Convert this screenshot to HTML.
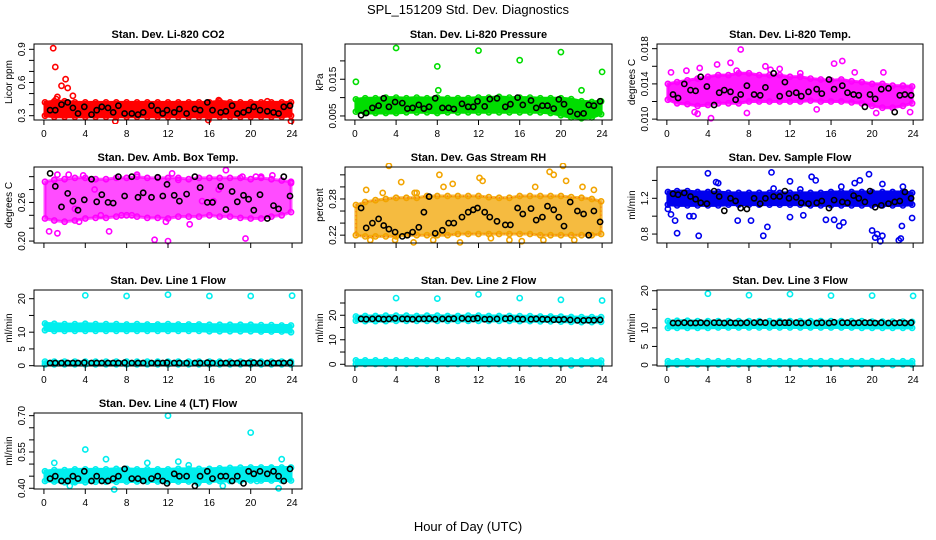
<!DOCTYPE html>
<html><head><meta charset="utf-8">
<style>
html,body{margin:0;padding:0;background:#fff;}
svg{display:block;font-family:"Liberation Sans",Arial,sans-serif;}
</style></head>
<body>
<svg id="chart" width="936" height="540" viewBox="0 0 936 540">
<text x="468" y="14" text-anchor="middle" font-size="13">SPL_151209  Std. Dev. Diagnostics</text>
<text x="468" y="531" text-anchor="middle" font-size="13">Hour of Day (UTC)</text>
</svg>
<script>
// shared hours
const blkH = [0.6,1.1,1.7,2.3,2.8,3.3,3.9,4.6,5.1,5.6,6.2,6.7,7.2,7.8,8.5,9.1,9.6,10.4,11.0,11.5,11.9,12.6,13.1,13.8,14.6,15.1,15.8,16.3,17.1,17.6,18.2,18.7,19.3,19.8,20.3,20.9,21.6,22.2,22.7,23.2,23.8];
const bandH = [0.1,1,2,3,4,5,6,7,8,9,10,11,12,13,14,15,16,17,18,19,20,21,22,23,23.9];
const xTicks = [0,4,8,12,16,20,24];

// CO2
const co2Blk = [.35,.35,.40,.42,.37,.32,.38,.31,.35,.38,.37,.33,.39,.32,.32,.31,.33,.39,.35,.32,.35,.33,.36,.32,.36,.35,.42,.35,.33,.34,.39,.32,.33,.35,.38,.35,.34,.33,.32,.38,.39];
const co2Lo = [.30,.29,.29,.29,.29,.29,.29,.29,.29,.29,.29,.29,.29,.29,.29,.29,.29,.29,.29,.29,.29,.29,.29,.29,.30];
const co2Hi = [.42,.43,.43,.42,.42,.42,.42,.42,.42,.42,.42,.42,.42,.42,.42,.42,.42,.43,.42,.42,.42,.42,.42,.42,.42];
const co2Pts = [[0.9,.91],[1.1,.74],[1.3,.47],[1.2,.45],[2.1,.63],[2.3,.55],[1.7,.57],[2.8,.48],[6.9,.25],[15.9,.26],[23.9,.25],[21.6,.43],[16.9,.44]];
// Pressure
const prsBlk = [.0052,.0058,.0072,.0078,.0098,.0075,.0088,.0085,.0070,.0072,.0080,.0070,.0075,.0098,.0072,.0072,.0069,.0083,.0075,.0075,.0090,.0076,.0096,.0098,.0075,.0082,.0100,.0080,.0092,.0072,.0078,.0078,.0070,.0095,.0082,.0062,.0055,.0057,.0080,.0078,.0090];
const prsLo = [.0062,.0058,.0058,.0058,.0058,.0060,.0060,.0060,.0058,.0060,.0060,.0060,.0060,.0060,.0060,.0060,.0060,.0060,.0060,.0058,.0052,.0046,.0044,.0046,.0055];
const prsHi = [.0095,.0098,.0098,.0100,.0100,.0098,.0100,.0098,.0100,.0098,.0098,.0098,.0100,.0100,.0102,.0100,.0100,.0100,.0098,.0098,.0098,.0096,.0090,.0088,.0090];
const prsPts = [[0.1,.0143],[4,.0235],[8,.0185],[8.1,.0120],[12,.0228],[16,.0202],[20,.0224],[22,.0120],[24,.0170]];
// Li-820 Temp
const tmpBlk = [.0128,.0124,.0140,.0133,.0132,.0148,.0137,.0116,.0130,.0133,.0131,.0122,.0128,.0138,.0128,.0127,.0136,.0152,.0126,.0142,.0129,.0130,.0126,.0131,.0134,.0129,.0145,.0134,.0138,.0130,.0128,.0127,.0114,.0128,.0123,.0134,.0135,.0108,.0127,.0128,.0127];
const tmpLo = [.0122,.0118,.0117,.0115,.0116,.0118,.0118,.0118,.0120,.0120,.0120,.0120,.0120,.0120,.0121,.0120,.0120,.0120,.0119,.0118,.0115,.0113,.0113,.0115,.0118];
const tmpHi = [.0140,.0142,.0144,.0146,.0148,.0150,.0150,.0152,.0152,.0150,.0150,.0150,.0148,.0148,.0146,.0145,.0144,.0145,.0143,.0142,.0140,.0140,.0138,.0138,.0137];
const tmpPts = [[0.4,.0153],[2.7,.0108],[3,.0106],[3.2,.0158],[4.3,.0101],[4.9,.0162],[6.2,.0164],[6.8,.0155],[7.2,.0179],[7.8,.0107],[9.6,.0160],[10.1,.0156],[11,.0157],[14.6,.0111],[16.3,.0163],[17.1,.0166],[18.3,.0153],[20.4,.0107],[21.1,.0153],[23.7,.0108],[1.9,.0155],[13.0,.0152]];
// Amb box temp
const ambBlk = [.305,.285,.253,.274,.262,.248,.264,.296,.261,.272,.260,.259,.300,.270,.300,.268,.275,.268,.299,.270,.288,.271,.262,.273,.300,.283,.260,.260,.285,.249,.277,.261,.271,.265,.248,.272,.235,.255,.250,.300,.270];
const ambLo = [.235,.232,.230,.232,.235,.236,.236,.238,.240,.238,.236,.236,.235,.238,.238,.238,.240,.238,.238,.236,.235,.235,.238,.240,.245];
const ambHi = [.292,.295,.296,.298,.298,.296,.296,.298,.298,.300,.298,.298,.298,.298,.296,.298,.298,.298,.298,.298,.296,.298,.296,.294,.292];
const ambPts = [[0.5,.215],[1.3,.212],[1.3,.303],[2.4,.303],[3.4,.23],[3.8,.302],[5.5,.24],[9,.303],[10.7,.202],[12,.2],[11.8,.23],[14.1,.226],[15.3,.262],[16.4,.262],[19.5,.204],[17.6,.31],[19.2,.30],[20.5,.30],[22.1,.302],[7.5,.24],[8.5,.24],[13,.295],[16.9,.28],[6.3,.215],[23.9,.29],[12.4,.305],[4.9,.28],[21,.30],[1,.295],[3,.25]];
// Gas stream RH
const rhBlk = [.265,.232,.240,.247,.236,.230,.225,.218,.220,.225,.233,.258,.284,.223,.228,.240,.240,.250,.258,.262,.265,.258,.250,.243,.237,.237,.265,.255,.264,.245,.250,.268,.262,.250,.235,.275,.260,.255,.220,.260,.242];
const rhLo = [.220,.218,.218,.218,.218,.220,.220,.220,.220,.220,.222,.222,.222,.222,.222,.222,.222,.222,.220,.220,.220,.220,.220,.220,.222];
const rhHi = [.270,.275,.278,.280,.282,.282,.282,.285,.285,.285,.285,.285,.285,.283,.282,.282,.285,.285,.285,.285,.285,.283,.282,.280,.276];
const rhPts = [[1.1,.295],[2.7,.29],[3.3,.335],[4.5,.308],[5.8,.29],[6,.29],[8.2,.32],[8.6,.30],[9.5,.305],[12.1,.315],[12.4,.31],[17.5,.30],[18.9,.325],[19.3,.32],[20.2,.335],[20.5,.31],[23.2,.295],[22.1,.30],[1.5,.212],[3.9,.212],[5.7,.208],[7.6,.212],[10.2,.208],[15,.212],[18.3,.212],[21.3,.212],[13.2,.215],[16.2,.21]];
// Sample flow
const sfBlk = [1.25,1.24,1.26,1.22,1.19,1.15,1.14,1.28,1.22,1.06,1.20,1.17,1.09,1.08,1.20,1.14,1.20,1.22,1.22,1.28,1.20,1.21,1.15,1.14,1.15,1.17,1.09,1.18,1.16,1.15,1.23,1.20,1.16,1.28,1.10,1.12,1.14,1.16,1.17,1.27,1.20];
const sfLo = [1.13,1.12,1.12,1.12,1.12,1.12,1.13,1.13,1.13,1.13,1.13,1.13,1.13,1.13,1.12,1.12,1.12,1.12,1.12,1.12,1.12,1.12,1.12,1.12,1.13];
const sfHi = [1.27,1.28,1.28,1.27,1.27,1.27,1.26,1.26,1.26,1.26,1.26,1.26,1.26,1.26,1.26,1.26,1.27,1.27,1.27,1.27,1.27,1.27,1.27,1.27,1.26];
const sfPts = [[0.1,1.08],[0.4,1.02],[0.8,.95],[1.0,.81],[2.2,1.00],[2.6,1.00],[3.1,.78],[4.0,1.48],[4.8,1.38],[5.0,1.37],[6.9,.95],[8.2,.95],[9.4,.78],[9.8,.88],[10.2,1.49],[10.4,1.31],[12.0,1.39],[12.0,.99],[13.0,1.30],[13.3,1.01],[14.1,1.44],[14.5,1.40],[15.5,.96],[16.3,.96],[16.8,.89],[17.0,1.33],[17.2,.93],[18.3,1.37],[18.8,1.40],[19.7,1.47],[20.0,.84],[20.3,.76],[20.5,.80],[20.8,.72],[21.0,.78],[22.6,.73],[22.8,.75],[22.9,.89],[23.0,1.33],[23.9,.98],[21.0,1.36]];
// Line 1
const l1Blk = [.8,.8,.8,.8,.8,.8,.9,.8,.8,.8,.8,.8,.8,.9,.8,.8,.8,.8,.8,.8,.9,.8,.8,.8,.8,.8,.9,.8,.8,.8,.8,.8,.8,.8,.9,.8,.8,.8,.8,.8,.9];
const l1Lo = [10.6,10.4,10.4,10.4,10.4,10.4,10.4,10.4,10.4,10.4,10.4,10.4,10.4,10.4,10.4,10.4,10.3,10.3,10.3,10.3,10.3,10.2,10.2,10.2,10.0];
const l1Hi = [12.6,12.5,12.4,12.4,12.5,12.4,12.4,12.4,12.3,12.4,12.3,12.3,12.4,12.3,12.3,12.3,12.2,12.2,12.2,12.2,12.2,12.1,12.1,12.0,12.0];
const l1Lo2 = [0.4,0.4,0.4,0.4,0.4,0.4,0.4,0.4,0.4,0.4,0.4,0.4,0.4,0.4,0.4,0.4,0.4,0.4,0.4,0.4,0.4,0.4,0.4,0.4,0.4];
const l1Hi2 = [1.2,1.2,1.2,1.2,1.2,1.2,1.2,1.2,1.2,1.2,1.2,1.2,1.2,1.2,1.2,1.2,1.2,1.2,1.2,1.2,1.2,1.2,1.2,1.2,1.2];
const l1Pts = [[4,21.0],[8,20.8],[12,21.2],[16,20.8],[20,20.8],[24,20.9]];
// Line 2
const l2Blk = [18.5,18.4,18.5,18.6,18.4,18.5,18.7,18.5,18.5,18.4,18.5,18.5,18.6,18.4,18.5,18.5,18.6,18.7,18.5,18.5,18.8,18.4,18.4,18.5,18.6,18.7,18.5,18.4,18.4,18.5,18.4,18.3,18.2,18.2,18.3,18.1,17.9,17.9,18.0,18.0,18.1];
const l2Lo = [17.8,17.6,17.6,17.6,17.7,17.7,17.7,17.7,17.7,17.7,17.7,17.7,17.7,17.7,17.7,17.7,17.6,17.6,17.5,17.5,17.4,17.3,17.2,17.2,17.3];
const l2Hi = [19.5,19.7,19.7,19.8,19.8,19.8,19.7,19.8,19.8,19.7,19.7,19.8,19.8,19.7,19.7,19.7,19.6,19.6,19.5,19.5,19.4,19.3,19.2,19.2,19.2];
const l2Lo2 = [0.0,0.1,0.1,0.1,0.1,0.1,0.1,0.1,0.1,0.1,0.1,0.1,0.1,0.1,0.1,0.1,0.1,0.1,0.1,0.1,0.0,-0.4,0.0,0.1,0.1];
const l2Hi2 = [1.6,1.6,1.6,1.6,1.6,1.6,1.6,1.6,1.6,1.6,1.6,1.6,1.6,1.6,1.6,1.6,1.6,1.6,1.6,1.6,1.5,1.5,1.5,1.5,1.5];
const l2Pts = [[4,27.0],[8,26.8],[12,28.5],[16,27.0],[20,26.3],[24,26.0]];
// Line 3
const l3Blk = [11.3,11.3,11.4,11.3,11.3,11.4,11.3,11.4,11.4,11.3,11.4,11.3,11.3,11.4,11.4,11.5,11.4,11.3,11.4,11.4,11.4,11.4,11.3,11.4,11.3,11.4,11.3,11.5,11.4,11.4,11.3,11.4,11.4,11.4,11.3,11.4,11.3,11.3,11.4,11.3,11.4];
const l3Lo = [10.0,10.0,10.0,10.0,10.0,10.1,10.1,10.1,10.1,10.1,10.1,10.1,10.1,10.1,10.1,10.1,10.1,10.1,10.1,10.0,10.0,10.0,10.0,10.0,10.0];
const l3Hi = [11.8,11.9,11.9,11.8,11.8,11.8,11.8,11.8,11.8,11.8,11.8,11.8,11.8,11.8,11.8,11.8,11.8,11.8,11.8,11.8,11.7,11.7,11.7,11.7,11.6];
const l3Lo2 = [0.2,0.2,0.2,0.2,0.2,0.2,0.2,0.2,0.2,0.2,0.2,0.2,0.2,0.2,0.2,0.2,0.2,0.2,0.2,0.2,0.2,0.2,0.0,0.2,0.2];
const l3Hi2 = [1.0,1.0,1.0,1.0,1.0,1.0,1.0,1.0,1.0,1.0,1.0,1.0,1.0,1.0,1.0,1.0,1.0,1.0,1.0,1.0,1.0,1.0,1.0,1.0,1.0];
const l3Pts = [[4,19.2],[8,18.8],[12,19.1],[16,18.7],[20,18.7],[24,18.6]];
// Line 4
const l4Blk = [.44,.45,.43,.43,.45,.44,.47,.43,.45,.43,.43,.44,.45,.48,.44,.44,.43,.44,.45,.43,.42,.46,.45,.45,.41,.45,.47,.44,.45,.45,.43,.45,.42,.47,.46,.47,.46,.47,.45,.43,.48];
const l4Lo = [.430,.428,.425,.425,.425,.427,.427,.427,.428,.428,.428,.428,.428,.428,.428,.428,.428,.430,.430,.430,.432,.432,.432,.432,.432];
const l4Hi = [.470,.475,.475,.478,.478,.478,.478,.480,.480,.478,.478,.478,.478,.480,.480,.480,.480,.482,.484,.485,.486,.486,.486,.486,.486];
const l4Pts = [[12,.70],[20,.63],[4,.56],[1,.505],[10,.505],[23,.52],[6,.52],[13,.51],[14,.495],[22,.48],[2.5,.41],[6.8,.395],[14.9,.42],[20.6,.43],[22.7,.40],[17.3,.41],[3,.43]];

const svg = document.getElementById('chart');
const NS = 'http://www.w3.org/2000/svg';
function mk(tag, attrs, parent){const e=document.createElementNS(NS,tag);for(const k in attrs)e.setAttribute(k,attrs[k]);(parent||svg).appendChild(e);return e;}

const cols = [[34,302],[345,612],[657,923]];
const rows = [[44,120],[167,243],[290,366],[413,489]];

const panels = [
 {id:'co2',title:'Stan. Dev. Li-820 CO2',ytitle:'Licor ppm',r:0,c:0,ylim:[0.261,0.948],yt:[0.3,0.4,0.5,0.6,0.7,0.8,0.9],yl:['0.3','','','0.6','','','0.9'],col:'#ff0000',blk:co2Blk,bands:[[co2Lo,co2Hi]],pts:co2Pts,xl:true},
 {id:'pressure',title:'Stan. Dev. Li-820 Pressure',ytitle:'kPa',r:0,c:1,ylim:[0.0039,0.0246],yt:[0.005,0.010,0.015,0.020],yl:['0.005','','0.015',''],col:'#00dd00',blk:prsBlk,bands:[[prsLo,prsHi]],pts:prsPts,xl:true},
 {id:'li820-temp',title:'Stan. Dev. Li-820 Temp.',ytitle:'degrees C',r:0,c:2,ylim:[0.0099,0.01853],yt:[0.010,0.012,0.014,0.016,0.018],yl:['0.010','','0.014','','0.018'],col:'#ff00ff',blk:tmpBlk,bands:[[tmpLo,tmpHi]],pts:tmpPts,xl:true,op:0.9},
 {id:'amb-temp',title:'Stan. Dev. Amb. Box Temp.',ytitle:'degrees C',r:1,c:0,ylim:[0.197,0.315],yt:[0.20,0.22,0.24,0.26,0.28,0.30],yl:['0.20','','','0.26','',''],col:'#ff00ff',blk:ambBlk,bands:[[ambLo,ambHi]],pts:ambPts,xl:false,op:0.7},
 {id:'rh',title:'Stan. Dev. Gas Stream RH',ytitle:'percent',r:1,c:1,ylim:[0.207,0.333],yt:[0.22,0.24,0.26,0.28,0.30,0.32],yl:['0.22','','','0.28','',''],col:'#f2a400',blk:rhBlk,bands:[[rhLo,rhHi]],pts:rhPts,xl:false,op:0.75,dot:'#ff0000'},
 {id:'sample-flow',title:'Stan. Dev. Sample Flow',ytitle:'ml/min',r:1,c:2,ylim:[0.70,1.55],yt:[0.8,1.0,1.2,1.4],yl:['0.8','','1.2',''],col:'#0000ee',blk:sfBlk,bands:[[sfLo,sfHi]],pts:sfPts,xl:false},
 {id:'line1',title:'Stan. Dev. Line 1 Flow',ytitle:'ml/min',r:2,c:0,ylim:[-0.1,22.6],yt:[0,5,10,15,20],yl:['0','5','10','','20'],col:'#00eeee',blk:l1Blk,bands:[[l1Lo,l1Hi],[l1Lo2,l1Hi2]],pts:l1Pts,xl:true},
 {id:'line2',title:'Stan. Dev. Line 2 Flow',ytitle:'ml/min',r:2,c:1,ylim:[-0.7,30.3],yt:[0,5,10,15,20,25],yl:['0','','10','','20',''],col:'#00eeee',blk:l2Blk,bands:[[l2Lo,l2Hi],[l2Lo2,l2Hi2]],pts:l2Pts,xl:true},
 {id:'line3',title:'Stan. Dev. Line 3 Flow',ytitle:'ml/min',r:2,c:2,ylim:[-0.27,20.2],yt:[0,5,10,15,20],yl:['0','5','10','','20'],col:'#00eeee',blk:l3Blk,bands:[[l3Lo,l3Hi],[l3Lo2,l3Hi2]],pts:l3Pts,xl:true},
 {id:'line4',title:'Stan. Dev. Line 4 (LT) Flow',ytitle:'ml/min',r:3,c:0,ylim:[0.397,0.711],yt:[0.40,0.45,0.50,0.55,0.60,0.65,0.70],yl:['0.40','','','0.55','','','0.70'],col:'#00eeee',blk:l4Blk,bands:[[l4Lo,l4Hi]],pts:l4Pts,xl:true}
];

panels.forEach(p=>{
  const [x0,x1]=cols[p.c], [y0,y1]=rows[p.r];
  const xs = h => x0 + (h+0.96)/25.92*(x1-x0);
  const ys = v => y1 - (v-p.ylim[0])/(p.ylim[1]-p.ylim[0])*(y1-y0);
  const g = mk('g',{});
  
  
  const clipId='clip-'+p.id;
  const cp=mk('clipPath',{id:clipId},g);
  mk('rect',{x:x0-4,y:y0-4,width:x1-x0+8,height:y1-y0+8},cp);
  const plot=mk('g',{'clip-path':'url(#'+clipId+')'},g);
  // bands
  p.bands.forEach((b,bi)=>{
    const lo=b[0], hi=b[1];
    let d='';
    bandH.forEach((h,i)=>{d+=(i?'L':'M')+xs(h).toFixed(1)+','+ys(hi[i]).toFixed(1);});
    for(let i=bandH.length-1;i>=0;i--){d+='L'+xs(bandH[i]).toFixed(1)+','+ys(lo[i]).toFixed(1);}
    d+='Z';
    const band=mk('path',{d:d,fill:p.col,stroke:p.col,'stroke-width':3,'stroke-linejoin':'round','fill-opacity':p.op||1,'stroke-opacity':p.op||1},plot);
    
    
    // bumpy edge circles at band edge values
    bandH.forEach((h,i)=>{
      [lo[i],hi[i]].forEach((v,k)=>{
        const c=mk('circle',{cx:xs(h).toFixed(1),cy:ys(v).toFixed(1),r:2.6,fill:'none',stroke:p.col,'stroke-width':1.6},plot);
        
        
      });
    });
    if(p.dot){
      const pat=mk('path',{d:d,fill:'none',stroke:p.dot,'stroke-width':0.8,'stroke-dasharray':'1 3','opacity':0.6},plot);
      
      
    }
  });
  // colored points
  p.pts.forEach(pt=>{
    const c=mk('circle',{cx:xs(pt[0]).toFixed(1),cy:ys(pt[1]).toFixed(1),r:2.6,fill:'none',stroke:p.col,'stroke-width':1.6},plot);
    
    
  });
  // black points
  blkH.forEach((h,i)=>{
    const c=mk('circle',{cx:xs(h).toFixed(1),cy:ys(p.blk[i]).toFixed(1),r:2.6,fill:'none',stroke:'#000','stroke-width':1.6},plot);
    
    
  });
  // box
  const box=mk('rect',{x:x0,y:y0,width:x1-x0,height:y1-y0,fill:'none',stroke:'#000','stroke-width':1},g);
  
  
  // title
  const t=mk('text',{x:(x0+x1)/2,y:y0-6,'text-anchor':'middle','font-size':11,'font-weight':'bold'},g);
  t.textContent=p.title;
  
  
  // x axis
  const xa=mk('g',{},g);
  
  
  mk('line',{x1:xs(0),x2:xs(24),y1:y1,y2:y1,stroke:'#000'},xa);
  xTicks.forEach(h=>{
    mk('line',{x1:xs(h),x2:xs(h),y1:y1,y2:y1+5,stroke:'#000'},xa);
    if(p.xl){
      const tl=mk('text',{x:xs(h),y:y1+17,'text-anchor':'middle','font-size':10},xa);
      tl.textContent=h;
      
      
    }
  });
  // y axis
  const ya=mk('g',{},g);
  
  
  mk('line',{x1:x0,x2:x0,y1:ys(p.yt[0]),y2:ys(p.yt[p.yt.length-1]),stroke:'#000'},ya);
  p.yt.forEach((v,i)=>{
    const yy=ys(v);
    mk('line',{x1:x0-5,x2:x0,y1:yy,y2:yy,stroke:'#000'},ya);
    if(p.yl[i]){
      const tl=mk('text',{x:x0-9,y:yy,'text-anchor':'middle','font-size':10,transform:'rotate(-90 '+(x0-9)+' '+yy+')'},ya);
      tl.textContent=p.yl[i];
      
      
    }
  });
  const yt=mk('text',{x:x0-22,y:(y0+y1)/2,'text-anchor':'middle','font-size':10,transform:'rotate(-90 '+(x0-22)+' '+((y0+y1)/2)+')'},g);
  yt.textContent=p.ytitle;
  
  
});
</script>
</body></html>
